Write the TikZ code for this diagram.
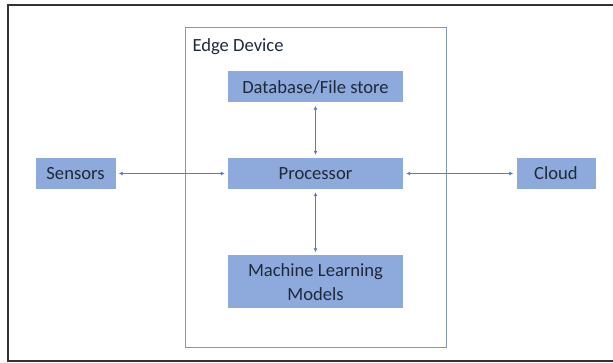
\documentclass[tikz,border=0pt]{standalone}
\usepackage{fontspec}
\setmainfont{Carlito}
\usepackage{tikz}
\usetikzlibrary{arrows.meta,positioning}

\definecolor{boxblue}{HTML}{8EA9DB}
\definecolor{linkblue}{HTML}{5B7BBE}
\definecolor{edgegray}{HTML}{8497B0}
\definecolor{txtdark}{HTML}{1E2A3A}

\begin{document}
\begin{tikzpicture}[x=1pt, y=-1pt,
    block/.style={rectangle, fill=boxblue, draw=none, text=txtdark, font=\fontsize{18.6}{23.5}\selectfont, align=center, inner sep=0pt},
    link/.style={{Latex[length=4pt,width=4pt]}-{Latex[length=4pt,width=4pt]}, draw=linkblue, line width=0.9pt, shorten <=3pt, shorten >=3pt}]
\useasboundingbox (0,0) rectangle (613,363);
% Outer frame
\draw[line width=2pt, black!80] (613,361) -- (8,361) -- (8,5) -- (613,5);
% Edge device container
\node[draw=edgegray, line width=1pt, minimum width=261pt, minimum height=319pt, inner sep=0pt] (edge) at (315.5,187.5) {};
\node[anchor=west, text=txtdark, font=\fontsize{18.6}{22}\selectfont] (edgelbl) at (189,47) {Edge Device};
% Blocks
\node[block, minimum width=175pt, minimum height=31pt] (db) at (315.5,87) {Database/File store};
\node[block, minimum width=175pt, minimum height=31pt] (proc) at (315.5,173.5) {Processor};
\node[block, minimum width=175pt, minimum height=53pt] (ml) at (315.5,282) {Machine Learning\\Models};
\node[block, minimum width=80pt, minimum height=31pt] (sensors) at (75.5,173.5) {Sensors};
\node[block, minimum width=79pt, minimum height=31pt] (cloud) at (556,173.5) {Cloud};
% Links
\draw[link] (sensors) -- (proc);
\draw[link] (proc) -- (cloud);
\draw[link] (db) -- (proc);
\draw[link] (proc) -- (ml);
\end{tikzpicture}
\end{document}
